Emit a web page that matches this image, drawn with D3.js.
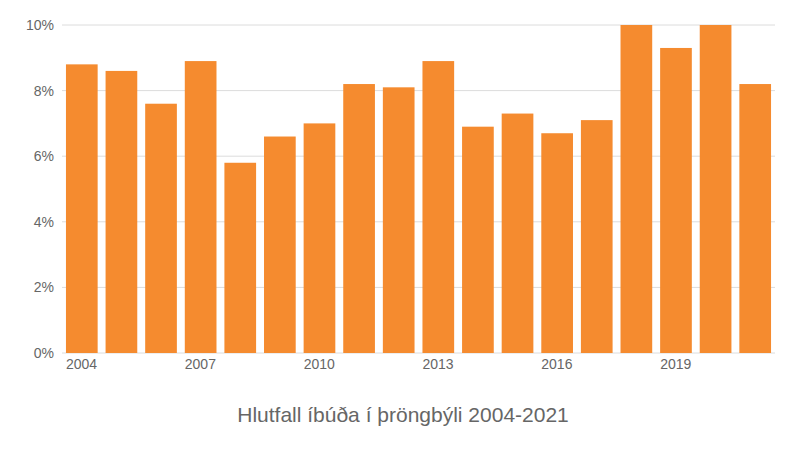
<!DOCTYPE html>
<html><head><meta charset="utf-8">
<script src="https://cdn.jsdelivr.net/npm/d3@7"></script>
<style>body{margin:0;background:#fff}text{font-family:"Liberation Sans",Arial,sans-serif}</style>
</head><body><svg id="c" width="800" height="450"></svg>
<script>
const years=[2004,2005,2006,2007,2008,2009,2010,2011,2012,2013,2014,2015,2016,2017,2018,2019,2020,2021];
const values=[8.8,8.6,7.6,8.9,5.8,6.6,7.0,8.2,8.1,8.9,6.9,7.3,6.7,7.1,10.0,9.3,10.0,8.2];
const yTicks=[0,2,4,6,8,10];
const xLabels=[2004,2007,2010,2013,2016,2019];
const title="Hlutfall íbúða í þröngbýli 2004-2021";
const svg=d3.select("#c");
const x=d3.scaleBand().domain(years).range([62,775]).paddingInner(0.2).paddingOuter(0.1);
const y=d3.scaleLinear().domain([0,10]).range([353,25]);
svg.append("g").selectAll("line").data(yTicks).join("line")
 .attr("x1",62).attr("x2",775).attr("y1",d=>y(d)).attr("y2",d=>y(d))
 .attr("stroke","#dcdcdc").attr("stroke-width",1);
svg.append("g").selectAll("text").data(yTicks).join("text")
 .attr("x",54).attr("y",d=>y(d)+5).attr("text-anchor","end")
 .attr("font-size",14).attr("fill","#666").text(d=>d+"%");
svg.append("g").selectAll("rect").data(values).join("rect")
 .attr("x",(d,i)=>x(years[i])).attr("width",x.bandwidth())
 .attr("y",d=>y(d)).attr("height",d=>y(0)-y(d)).attr("fill","#f58b2f");
svg.append("g").selectAll("text").data(xLabels).join("text")
 .attr("x",d=>x(d)).attr("y",369).attr("font-size",14).attr("fill","#666").text(d=>d);
svg.append("text").attr("x",403).attr("y",422).attr("text-anchor","middle")
 .attr("font-size",21).attr("fill","#666").text(title);
</script></body></html>
